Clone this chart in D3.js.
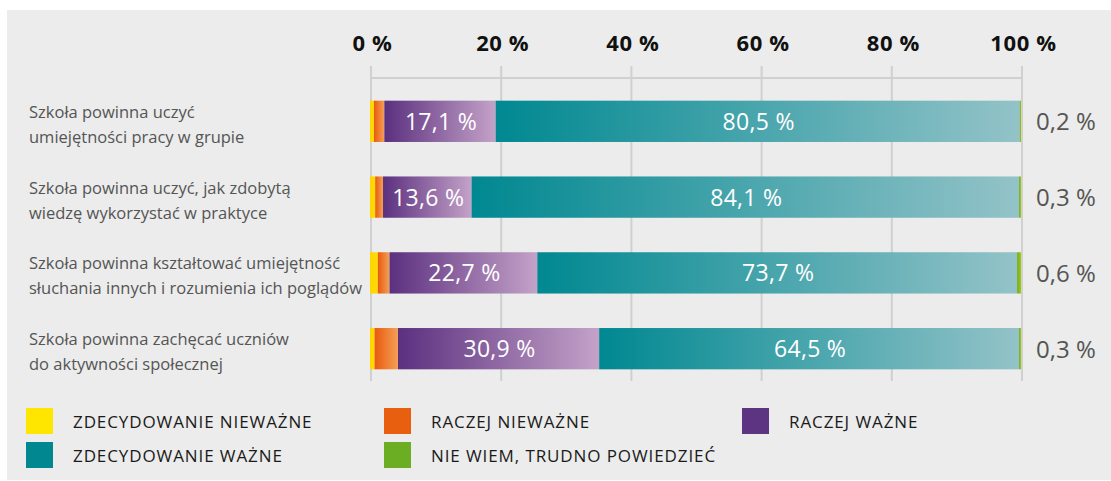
<!DOCTYPE html>
<html>
<head>
<meta charset="utf-8">
<script src="https://cdn.jsdelivr.net/npm/d3@7"></script>
<style>
  html, body { margin: 0; padding: 0; background: #ffffff; }
  svg { display: block; font-family: "Open Sans", "Noto Sans", sans-serif; }
</style>
</head>
<body>
<div id="chart"></div>
<script>
// questions (two lines each)
const questions = [
  ["Szkoła powinna uczyć", "umiejętności pracy w grupie"],
  ["Szkoła powinna uczyć, jak zdobytą", "wiedzę wykorzystać w praktyce"],
  ["Szkoła powinna kształtować umiejętność", "słuchania innych i rozumienia ich poglądów"],
  ["Szkoła powinna zachęcać uczniów", "do aktywności społecznej"]
];

const seriesNames = ["ZDECYDOWANIE NIEWAŻNE", "RACZEJ NIEWAŻNE", "RACZEJ WAŻNE", "ZDECYDOWANIE WAŻNE", "NIE WIEM, TRUDNO POWIEDZIEĆ"];

// values in % per answer, per question
const zdecydowanieNiewazne = [0.6, 0.8, 1.2, 0.7];
const raczejNiewazne       = [1.6, 1.2, 1.8, 3.6];
const raczejWazne          = [17.1, 13.6, 22.7, 30.9];
const zdecydowanieWazne    = [80.5, 84.1, 73.7, 64.5];
const nieWiem              = [0.2, 0.3, 0.6, 0.3];

const ticks = [0, 20, 40, 60, 80, 100];

const W = 1111, H = 481;
const svg = d3.select("#chart").append("svg").attr("width", W).attr("height", H);

svg.append("rect").attr("x", 7).attr("y", 10).attr("width", W - 7).attr("height", 470).attr("fill", "#ebeceb");

const keys = ["zn", "rn", "rw", "zw", "nw"];
const table = questions.map((q, i) => ({
  q, zn: zdecydowanieNiewazne[i], rn: raczejNiewazne[i], rw: raczejWazne[i], zw: zdecydowanieWazne[i], nw: nieWiem[i]
}));

const x = d3.scaleLinear().domain([0, 100]).range([371, 1022]);
const y = d3.scaleBand().domain(d3.range(questions.length)).range([84, 386]).paddingInner(0.455).paddingOuter(0.22);

const solid = { zn: "#ffe600", rn: "#e8600f", rw: "#5d3482", zw: "#00878f", nw: "#6bae23" };
const grad = {
  zn: ["#ffd400", "#ffdd00"],
  rn: ["#e85a0c", "#f4a058"],
  rw: ["#5b307f", "#c4a2c8"],
  zw: ["#008891", "#93c3c8"],
  nw: ["#6aad22", "#a8c810"]
};

const defs = svg.append("defs");
keys.forEach(k => {
  const g = defs.append("linearGradient").attr("id", "g-" + k).attr("x1", "0%").attr("x2", "100%").attr("y1", "0%").attr("y2", "0%");
  g.append("stop").attr("offset", "0%").attr("stop-color", grad[k][0]);
  g.append("stop").attr("offset", "100%").attr("stop-color", grad[k][1]);
});

// grid
const grid = svg.append("g");
grid.append("line")
  .attr("x1", x(0)).attr("x2", x(100)).attr("y1", 78).attr("y2", 78)
  .attr("stroke", "#cfd1d1").attr("stroke-width", 2);
grid.selectAll(".v").data(ticks).join("line")
  .attr("x1", d => x(d)).attr("x2", d => x(d))
  .attr("y1", 66).attr("y2", 381)
  .attr("stroke", "#cfd1d1").attr("stroke-width", 2);

const axis = svg.append("g").attr("transform", "translate(1,54)")
  .call(d3.axisTop(x).tickValues(ticks).tickSize(0).tickFormat(d => d + " %"));
axis.select(".domain").remove();
axis.selectAll("text")
  .attr("dy", 0)
  .attr("font-family", "'Open Sans', sans-serif")
  .attr("font-size", 22).attr("font-weight", "bold").attr("fill", "#111")
  .attr("letter-spacing", 0.6);

const stack = d3.stack().keys(keys)(table);

const layers = svg.append("g").selectAll("g").data(stack).join("g")
  .attr("fill", d => "url(#g-" + d.key + ")");
layers.selectAll("rect").data(d => d).join("rect")
  .attr("x", d => x(d[0]) - 1)
  .attr("width", d => x(d[1]) - x(d[0]))
  .attr("y", (d, i) => y(i))
  .attr("height", y.bandwidth());

// inside labels
const inside = stack.filter(s => s.key === "rw" || s.key === "zw");
svg.append("g").selectAll("g").data(inside).join("g")
  .selectAll("text").data(d => d).join("text")
  .attr("x", d => (x(d[0]) + x(d[1])) / 2)
  .attr("y", (d, i) => y(i) + y.bandwidth() / 2 + 8.5)
  .attr("text-anchor", "middle")
  .attr("font-size", 23).attr("fill", "#ffffff").attr("letter-spacing", 0.3)
  .text(d => d3.format(".1f")(d[1] - d[0]).replace(".", ",") + " %");

// right labels (nie wiem)
svg.append("g").selectAll("text").data(nieWiem).join("text")
  .attr("x", 1036)
  .attr("y", (d, i) => y(i) + y.bandwidth() / 2 + 9)
  .attr("font-size", 24).attr("fill", "#555555")
  .text(d => d3.format(".1f")(d).replace(".", ",") + " %");

// question labels
svg.append("g").selectAll("text").data(questions).join("text")
  .attr("x", 29)
  .attr("y", (d, i) => y(i) + y.bandwidth() / 2 - 3.5)
  .attr("font-size", 16.5).attr("fill", "#555555")
  .selectAll("tspan").data(d => d).join("tspan")
  .attr("x", 29).attr("dy", (d, j) => j === 0 ? 0 : 25)
  .text(d => d);

// legend
const legendPos = [[26, 408], [384, 408], [742, 408], [26, 442], [384, 442]];
const leg = svg.append("g").selectAll("g").data(seriesNames).join("g")
  .attr("transform", (d, i) => `translate(${legendPos[i][0]},${legendPos[i][1]})`);
leg.append("rect").attr("width", 27).attr("height", 26).attr("fill", (d, i) => solid[keys[i]]);
leg.append("text").attr("x", 47).attr("y", 20)
  .attr("font-size", 17).attr("fill", "#1a1a1a").attr("letter-spacing", 0.9)
  .text(d => d);
</script>
</body>
</html>
